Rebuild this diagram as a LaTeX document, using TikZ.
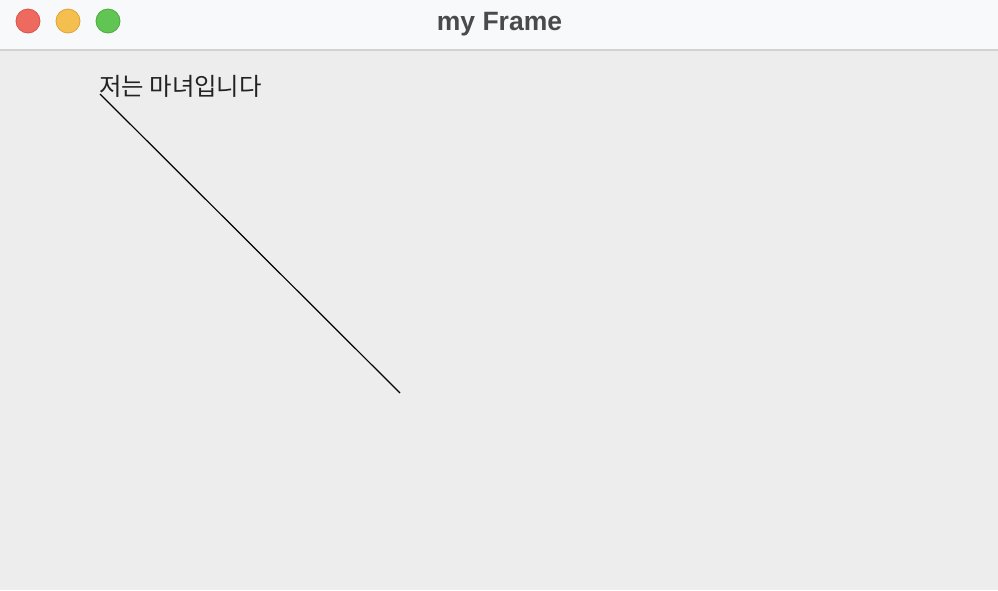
\documentclass[tikz,border=0pt]{standalone}
\usepackage{fontspec}
\newfontfamily\krfont{Noto Sans CJK KR}
\newfontfamily\titlefont{Liberation Sans}
\definecolor{bodybg}{HTML}{EDEDED}
\definecolor{barbg}{HTML}{F7F9FA}
\definecolor{sepline}{HTML}{D2D2D2}
\definecolor{tlred}{HTML}{EE6A5F}
\definecolor{tlredb}{HTML}{D9534A}
\definecolor{tlyel}{HTML}{F5BF4F}
\definecolor{tlyelb}{HTML}{DDA33A}
\definecolor{tlgrn}{HTML}{61C554}
\definecolor{tlgrnb}{HTML}{4DAA40}
\definecolor{titlegray}{HTML}{4A4A4A}
\definecolor{txtcol}{HTML}{222222}
\tikzset{
  light/.style={circle, minimum size=24pt, inner sep=0pt, line width=0.8pt},
}
\begin{document}
\begin{tikzpicture}[x=1pt,y=-1pt]
\useasboundingbox (0,0) rectangle (998,590);
\fill[bodybg] (0,0) rectangle (998,590);
\fill[barbg] (0,0) rectangle (998,50);
\draw[sepline, line width=1.2pt] (0,50) -- (998,50);
\node[light, fill=tlred, draw=tlredb] (red) at (28,21) {};
\node[light, fill=tlyel, draw=tlyelb] (yel) at (68,21) {};
\node[light, fill=tlgrn, draw=tlgrnb] (grn) at (108,21) {};
\node[font=\titlefont\bfseries\fontsize{26.5}{30}\selectfont, text=titlegray, anchor=base, inner sep=0pt] (title) at (499.5,30) {my Frame};
\node[font=\krfont\fontsize{24.4}{28}\selectfont, text=txtcol, anchor=base west, inner sep=0pt] (label) at (99,95) {저는 마녀입니다};
\coordinate (start) at (100,94);
\coordinate (end) at (400,393);
\draw[black, line width=1.2pt] (start) -- (end);
\end{tikzpicture}
\end{document}
